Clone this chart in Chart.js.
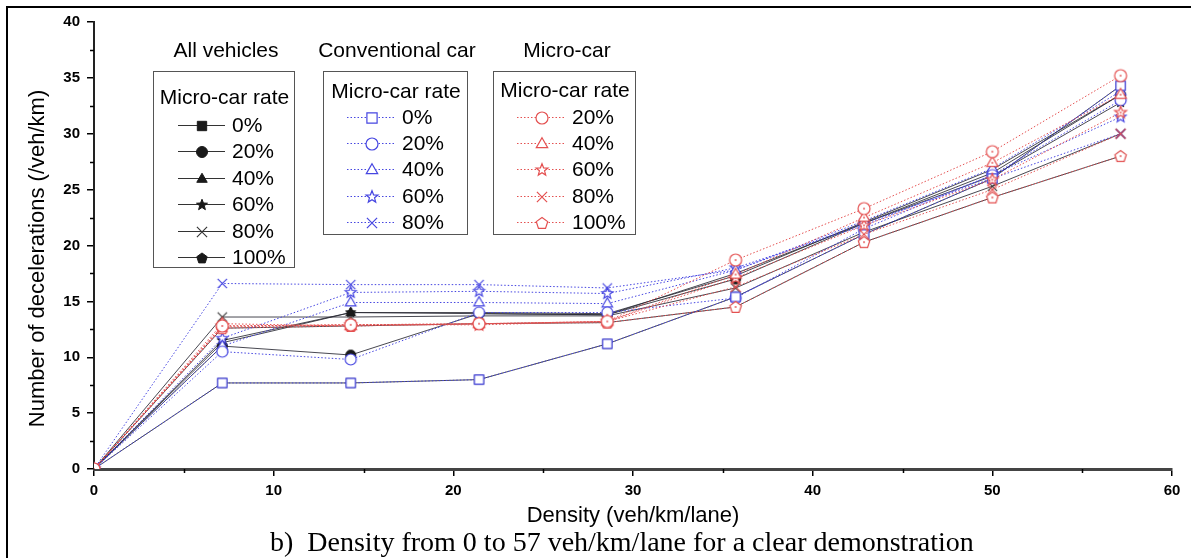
<!DOCTYPE html>
<html>
<head>
<meta charset="utf-8">
<title>Decelerations vs density</title>
<script src="https://cdn.jsdelivr.net/npm/chart.js@4.4.1/dist/chart.umd.min.js"></script>
<style>
  html, body { margin: 0; padding: 0; background: #fff; overflow: hidden; }
  #wrap { position: relative; width: 1191px; height: 558px; overflow: hidden; }
  #frame { position: absolute; left: 6px; top: 6px; width: 1300px; height: 700px;
           border-left: 2px solid #000; border-top: 2px solid #000; }
  #c { position: absolute; left: 0; top: 0; }
  #caption { position: absolute; left: 270px; top: 528px; white-space: pre; line-height: 28px;
             font-family: "Liberation Serif", "Times New Roman", serif; font-size: 28px; color: #000; }
</style>
</head>
<body>
<div id="wrap">
  <div id="frame"></div>
  <canvas id="c" width="1191" height="558"></canvas>
  <div id="caption">b)  Density from 0 to 57 veh/km/lane for a clear demonstration</div>
</div>
<script>
// Density points (veh/km/lane)
const density = [0, 7.14, 14.29, 21.43, 28.57, 35.71, 42.86, 50, 57.14];

// All vehicles, by micro-car rate
const all0   = [0, 7.7, 7.7, 8.0, 11.2, 15.4, 21.0, 26.0, 34.3];
const all20  = [0, 11.0, 10.2, 13.9, 13.8, 17.0, 22.0, 26.5, 33.5];
const all40  = [0, 11.3, 14.0, 14.0, 13.9, 17.3, 22.1, 26.8, 33.5];
const all60  = [0, 11.5, 14.0, 13.9, 13.8, 17.5, 22.0, 26.2, 32.8];
const all80  = [0, 13.6, 13.6, 13.7, 13.7, 16.2, 21.2, 25.3, 30.0];
const all100 = [0, 12.6, 12.8, 13.0, 13.1, 14.5, 20.3, 24.3, 28.0];

// Conventional cars, by micro-car rate
const conv0  = [0, 7.7, 7.7, 8.0, 11.2, 15.4, 21.0, 26.0, 34.3];
const conv20 = [0, 10.5, 9.8, 14.0, 14.0, 15.3, 21.5, 26.3, 33.0];
const conv40 = [0, 11.0, 14.9, 14.9, 14.8, 17.8, 22.2, 26.9, 33.8];
const conv60 = [0, 11.7, 15.8, 15.9, 15.7, 18.0, 21.8, 26.3, 31.5];
const conv80 = [0, 16.6, 16.5, 16.5, 16.2, 17.8, 22.0, 26.0, 30.0];

// Micro-cars, by micro-car rate
const micro20  = [0, 12.8, 12.9, 13.0, 13.2, 18.7, 23.3, 28.4, 35.2];
const micro40  = [0, 13.0, 12.8, 13.0, 13.2, 17.4, 22.5, 27.4, 33.5];
const micro60  = [0, 12.8, 12.9, 12.9, 13.2, 17.1, 21.8, 25.9, 31.9];
const micro80  = [0, 12.7, 12.9, 13.0, 13.2, 16.3, 21.0, 25.0, 30.0];
const micro100 = [0, 12.6, 12.8, 13.0, 13.1, 14.5, 20.3, 24.3, 28.0];

// Legend and axis text
const legendTitles = ['All vehicles', 'Conventional car', 'Micro-car'];
const legendHeader = 'Micro-car rate';
const allRates   = ['0%', '20%', '40%', '60%', '80%', '100%'];
const convRates  = ['0%', '20%', '40%', '60%', '80%'];
const microRates = ['20%', '40%', '60%', '80%', '100%'];
const yTitle = 'Number of decelerations (/veh/km)';
const xTitle = 'Density (veh/km/lane)';

// Axis ticks
const xTicks = [0, 10, 20, 30, 40, 50, 60];
const yTicks = [0, 5, 10, 15, 20, 25, 30, 35, 40];

const BLACK = '#1a1a1a';
const BLUE = 'rgb(70,70,225)';
const RED = 'rgb(228,80,80)';
const SANS = '"Liberation Sans", Arial, sans-serif';

// Draws a marker glyph into a small canvas usable as a Chart.js pointStyle
function marker(shape, r, stroke, fill, lw, dot) {
  const s = Math.ceil(r * 2 + lw * 2 + 3);
  const c = document.createElement('canvas');
  c.width = s; c.height = s;
  const g = c.getContext('2d');
  g.translate(s / 2, s / 2);
  g.lineWidth = lw; g.strokeStyle = stroke; g.fillStyle = fill;
  g.beginPath();
  if (shape === 'square') {
    g.rect(-r * 0.85, -r * 0.85, r * 1.7, r * 1.7);
  } else if (shape === 'circle') {
    g.arc(0, 0, r, 0, Math.PI * 2);
  } else if (shape === 'triangle') {
    g.moveTo(0, -r * 1.05); g.lineTo(r * 0.95, r * 0.6); g.lineTo(-r * 0.95, r * 0.6); g.closePath();
  } else if (shape === 'star') {
    for (let i = 0; i < 10; i++) {
      const a = -Math.PI / 2 + i * Math.PI / 5;
      const rr = i % 2 ? r * 0.45 : r * 1.05;
      g.lineTo(rr * Math.cos(a), rr * Math.sin(a));
    }
    g.closePath();
  } else if (shape === 'pentagon') {
    for (let i = 0; i < 5; i++) {
      const a = -Math.PI / 2 + i * 2 * Math.PI / 5;
      g.lineTo(r * Math.cos(a), r * Math.sin(a) + r * 0.08);
    }
    g.closePath();
  } else if (shape === 'cross') {
    const k = r * 0.85;
    g.moveTo(-k, -k); g.lineTo(k, k); g.moveTo(k, -k); g.lineTo(-k, k);
  }
  if (shape !== 'cross' && fill) g.fill();
  g.stroke();
  if (dot) {
    g.beginPath(); g.fillStyle = stroke; g.arc(0, 0, 0.9, 0, Math.PI * 2); g.fill();
  }
  return c;
}

const shapesAll = ['square', 'circle', 'triangle', 'star', 'cross', 'pentagon'];
const shapesConv = ['square', 'circle', 'triangle', 'star', 'cross'];
const shapesMicro = ['circle', 'triangle', 'star', 'cross', 'pentagon'];

function filled(shape, r) {
  return shape === 'cross' ? marker('cross', r + 0.5, '#333', null, 1.1, false)
                           : marker(shape, r, BLACK, BLACK, 1, false);
}
function open(shape, r, col, dot) {
  return marker(shape, r, col, '#fff', 1.2, dot);
}

const allSeries = [all0, all20, all40, all60, all80, all100];
const convSeries = [conv0, conv20, conv40, conv60, conv80];
const microSeries = [micro20, micro40, micro60, micro80, micro100];

const toXY = arr => arr.map((v, i) => ({ x: density[i], y: v }));

const datasets = [];
allSeries.forEach((arr, i) => datasets.push({
  label: 'All vehicles ' + allRates[i], data: toXY(arr),
  borderColor: 'rgba(40,40,50,0.85)', borderWidth: 1,
  pointStyle: filled(shapesAll[i], 5), order: 3
}));
convSeries.forEach((arr, i) => datasets.push({
  label: 'Conventional car ' + convRates[i], data: toXY(arr),
  borderColor: BLUE, borderWidth: 1, borderDash: [1.5, 2],
  pointStyle: open(shapesConv[i], 5.5, BLUE, false), order: 2
}));
microSeries.forEach((arr, i) => datasets.push({
  label: 'Micro-car ' + microRates[i], data: toXY(arr),
  borderColor: RED, borderWidth: 1, borderDash: [1.5, 2],
  pointStyle: open(shapesMicro[i], 6, RED, true), order: 1
}));

// Minor ticks between labelled ones, placed through the chart scales
const minorTicks = {
  id: 'minorTicks',
  afterDraw(chart) {
    const { ctx, scales: { x, y }, chartArea: a } = chart;
    ctx.save();
    ctx.strokeStyle = '#000'; ctx.lineWidth = 1.5;
    ctx.beginPath();
    for (let v = 5; v < 60; v += 10) {
      const px = Math.round(x.getPixelForValue(v)) + 0.5;
      ctx.moveTo(px, a.bottom); ctx.lineTo(px, a.bottom + 4);
    }
    for (let v = 2.5; v < 40; v += 5) {
      const py = Math.round(y.getPixelForValue(v)) + 0.5;
      ctx.moveTo(a.left, py); ctx.lineTo(a.left - 4, py);
    }
    ctx.stroke();
    ctx.restore();
  }
};

// Vertical axis title, sitting a little below the plot's middle
const yAxisTitle = {
  id: 'yAxisTitle',
  afterDraw(chart) {
    const { ctx, chartArea: a } = chart;
    ctx.save();
    ctx.translate(38, (a.top + a.bottom) / 2 + 13);
    ctx.rotate(-Math.PI / 2);
    ctx.font = '22px ' + SANS;
    ctx.fillStyle = '#000'; ctx.textAlign = 'center'; ctx.textBaseline = 'middle';
    ctx.fillText(yTitle, 0, 0);
    ctx.restore();
  }
};

// Grouped legends: one box per vehicle group
const groupLegends = {
  id: 'groupLegends',
  afterDraw(chart) {
    const ctx = chart.ctx;
    const groups = [
      { title: legendTitles[0], cx: 226, box: [153, 71, 141, 196], headY: 98, y0: 125, dy: 26.4,
        lx: [178, 225], mx: 202, tx: 232, rates: allRates, shapes: shapesAll, kind: 'all' },
      { title: legendTitles[1], cx: 397, box: [323, 71, 144, 163], headY: 92, y0: 117, dy: 26.2,
        lx: [347, 395], mx: 372, tx: 402, rates: convRates, shapes: shapesConv, kind: 'conv' },
      { title: legendTitles[2], cx: 567, box: [493, 71, 142, 163], headY: 91, y0: 117, dy: 26.2,
        lx: [517, 565], mx: 542, tx: 572, rates: microRates, shapes: shapesMicro, kind: 'micro' }
    ];
    ctx.save();
    ctx.font = '21px ' + SANS; ctx.fillStyle = '#000'; ctx.textBaseline = 'middle';
    groups.forEach(gp => {
      ctx.textAlign = 'center';
      ctx.fillText(gp.title, gp.cx, 51);
      ctx.strokeStyle = '#555'; ctx.lineWidth = 1; ctx.setLineDash([]);
      ctx.strokeRect(gp.box[0] + 0.5, gp.box[1] + 0.5, gp.box[2], gp.box[3]);
      ctx.fillText(legendHeader, gp.box[0] + gp.box[2] / 2 + 1, gp.headY);
      gp.rates.forEach((rt, i) => {
        const y = Math.round(gp.y0 + i * gp.dy) + 0.5;
        ctx.beginPath();
        if (gp.kind === 'all') { ctx.strokeStyle = '#333'; ctx.setLineDash([]); }
        else { ctx.strokeStyle = gp.kind === 'conv' ? BLUE : RED; ctx.setLineDash([1.5, 2]); }
        ctx.moveTo(gp.lx[0], y); ctx.lineTo(gp.lx[1], y); ctx.stroke();
        ctx.setLineDash([]);
        const m = gp.kind === 'all' ? filled(gp.shapes[i], 5.5)
                : open(gp.shapes[i], 6, gp.kind === 'conv' ? BLUE : RED, false);
        ctx.drawImage(m, Math.round(gp.mx - m.width / 2), Math.round(y - m.height / 2));
        ctx.textAlign = 'left'; ctx.fillStyle = '#000';
        ctx.fillText(rt, gp.tx, y + 1);
      });
    });
    ctx.restore();
  }
};

const tickFont = { family: SANS, weight: 'bold', size: 15 };
const titleFont = { family: SANS, size: 22 };

new Chart(document.getElementById('c'), {
  type: 'line',
  data: { datasets },
  options: {
    responsive: false,
    animation: false,
    devicePixelRatio: 1,
    layout: { padding: { left: 0, top: 22, right: 19, bottom: 0 } },
    plugins: { legend: { display: false }, tooltip: { enabled: false } },
    elements: { line: { tension: 0, fill: false }, point: { radius: 6, hoverRadius: 6 } },
    scales: {
      x: {
        type: 'linear', min: 0, max: 60,
        afterBuildTicks(s) { s.ticks = xTicks.map(v => ({ value: v })); },
        ticks: { font: tickFont, color: '#000', padding: 6, maxRotation: 0 },
        grid: { drawOnChartArea: false, drawTicks: true, tickLength: 7, color: '#000', lineWidth: 1.5 },
        border: { color: '#444', width: 3 },
        title: { display: true, text: xTitle, font: titleFont, color: '#000',
                 padding: { top: 0, bottom: 29 } },
        afterFit(s) { s.height = 89; }
      },
      y: {
        type: 'linear', min: 0, max: 40,
        afterBuildTicks(s) { s.ticks = yTicks.map(v => ({ value: v })); },
        ticks: { font: tickFont, color: '#000', padding: 7 },
        grid: { drawOnChartArea: false, drawTicks: true, tickLength: 7, color: '#000', lineWidth: 1.5 },
        border: { color: '#222', width: 2 },
        afterFit(s) { s.width = 94; }
      }
    }
  },
  plugins: [minorTicks, yAxisTitle, groupLegends]
});
</script>
</body>
</html>
